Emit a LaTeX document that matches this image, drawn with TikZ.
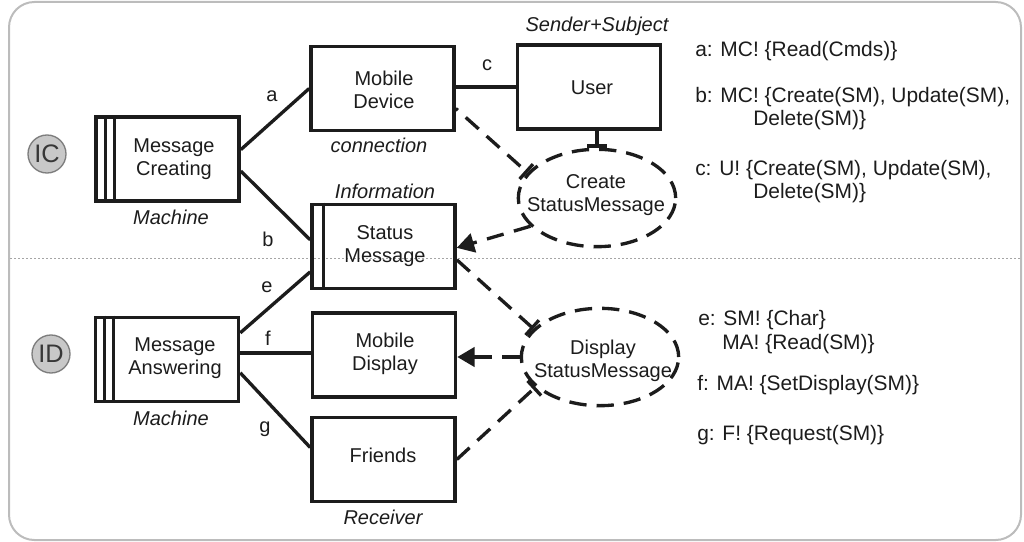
\documentclass[tikz,border=0pt]{standalone}
\usepackage{fontspec}
\setmainfont{Liberation Sans}
\usetikzlibrary{arrows.meta,shapes.geometric,calc}
\definecolor{ink}{RGB}{28,28,28}
\definecolor{framegray}{RGB}{188,188,188}
\definecolor{sepgray}{RGB}{165,165,165}
\definecolor{badgefill}{RGB}{200,200,200}
\definecolor{badgeline}{RGB}{125,125,125}
\begin{document}
\begin{tikzpicture}[x=0.75pt,y=-0.75pt,
  font=\fontsize{15}{17.5}\selectfont,
  pdomain/.style={draw=ink, line width=2.7pt, minimum width=107.25pt, minimum height=63pt, inner sep=0pt},
  stripe/.style={draw=ink, line width=2.5pt},
  dtext/.style={align=center, text=ink, inner sep=0pt},
  kind/.style={font=\fontsize{15}{17.5}\selectfont\itshape, text=ink, inner sep=0pt},
  iface/.style={draw=ink, line width=2.5pt},
  ilabel/.style={text=ink, inner sep=0pt},
  reqshape/.style={draw=ink, line width=2.5pt, dash pattern=on 13pt off 7.5pt, ellipse,
    minimum width=118pt, minimum height=73pt, inner sep=0pt},
  refline/.style={draw=ink, line width=2.5pt, dash pattern=on 13pt off 8pt},
  constrains/.style={-{Bar[width=15pt]}},
  refers/.style={-{Triangle[length=13pt,width=14.5pt]}},
  note/.style={text=ink, inner sep=0pt, anchor=west, align=left, font=\fontsize{15.7}{17.5}\selectfont},
  badge/.style={circle, draw=badgeline, fill=badgefill, line width=1pt, minimum size=28.5pt,
    inner sep=0pt, text={rgb,255:red,55;green,55;blue,55}, font=\fontsize{19}{19}\selectfont},
]
\useasboundingbox (0,0) rectangle (1024,542);

% outer frame and the divider between the two subproblems
\draw[framegray, line width=1.5pt, rounded corners=19pt] (9,2) rectangle (1021,540);
\draw[sepgray, line width=0.6pt, dash pattern=on 1.5pt off 1.5pt] (10,258) -- (1020,258);

% subproblem badges
\node[badge] (ic) at (47,154) {IC};
\node[badge] (id) at (51,354) {ID};

% problem domains
\node[pdomain] (mc) at (167.5,159) {};
\node[pdomain] (md) at (382.5,88.5) {};
\node[pdomain] (sm) at (383.5,246.5) {};
\node[pdomain] (us) at (589,87) {};
\node[pdomain] (ma) at (167,359.5) {};
\node[pdomain] (mdisp) at (384,355) {};
\node[pdomain] (fr) at (383.5,459.5) {};

% machine and designed-domain stripes
\draw[stripe] ([xshift=8.3pt]mc.north west) -- ([xshift=8.3pt]mc.south west);
\draw[stripe] ([xshift=15pt]mc.north west) -- ([xshift=15pt]mc.south west);
\draw[stripe] ([xshift=8.3pt]ma.north west) -- ([xshift=8.3pt]ma.south west);
\draw[stripe] ([xshift=15pt]ma.north west) -- ([xshift=15pt]ma.south west);
\draw[stripe] ([xshift=10pt]sm.north west) -- ([xshift=10pt]sm.south west);

% domain names
\node[dtext] (mctx) at (174,159.5) {Message\\Creating};
\node[dtext] (mdtx) at (384,90) {Mobile\\Device};
\node[dtext] (smtx) at (385,246) {Status\\Message};
\node[dtext] (ustx) at (592,88) {User};
\node[dtext] (matx) at (175,358) {Message\\Answering};
\node[dtext] (mdisptx) at (385,353.5) {Mobile\\Display};
\node[dtext] (frtx) at (383,455) {Friends};

% domain kinds
\node[kind] (k1) at (171,217) {Machine};
\node[kind] (k2) at (379,145) {connection};
\node[kind] (k3) at (385,191) {Information};
\node[kind] (k4) at (597,26) {Sender+Subject};
\node[kind] (k5) at (171,418) {Machine};
\node[kind] (k6) at (383,517) {Receiver};

% requirements
\node[reqshape] (cs) at (597,198) {};
\node[dtext] (cstx) at (596,195) {Create\\StatusMessage};
\node[reqshape] (ds) at (600,357) {};
\node[dtext] (dstx) at (603,361) {Display\\StatusMessage};

% interfaces
\draw[iface] ([yshift=7pt]mc.east) -- (md.west);
\draw[iface] ([yshift=-9pt]mc.east) -- ([yshift=5pt]sm.west);
\draw[iface] (us.west) -- (us.west -| md.east);
\draw[iface] ([yshift=20pt]ma.east) -- ([yshift=-19pt]sm.west);
\draw[iface] ([yshift=5pt]ma.east) -- ([yshift=5pt]ma.east -| mdisp.west);
\draw[iface] ([yshift=-10pt]ma.east) -- ([yshift=9pt]fr.west);

\node[ilabel] (la) at (272,96) {a};
\node[ilabel] (lb) at (268,239) {b};
\node[ilabel] (lc) at (487,65) {c};
\node[ilabel] (le) at (267,287) {e};
\node[ilabel] (lf) at (268,338) {f};
\node[ilabel] (lg) at (265,429) {g};

% requirement references
\draw[iface, constrains] (cs.north |- us.south) -- (cs.north);
\draw[refline, dash phase=11pt, constrains] ([yshift=-15pt]md.east) -- (cs.160);
\draw[refline, refers] (cs.203) -- ([yshift=-1pt]sm.east);
\draw[refline, constrains] ([yshift=-10pt]sm.east) -- (ds.157);
\draw[refline, refers] (ds.west) -- (ds.west -| mdisp.east);
\draw[refline, constrains] (fr.east) -- (ds.205);

% interface descriptions
\node[note] (na) at (695,51) {a: MC! \{Read(Cmds)\}};
\node[note] (nb) at (695,108.5) {b: MC! \{Create(SM), Update(SM),\\\hspace*{43.5pt}Delete(SM)\}};
\node[note] (nc) at (695,181.5) {c: U! \{Create(SM), Update(SM),\\\hspace*{43.5pt}Delete(SM)\}};
\node[note] (ne) at (698,332) {e: SM! \{Char\}\\\hspace*{18pt}MA! \{Read(SM)\}};
\node[note] (nf) at (697,385) {f: MA! \{SetDisplay(SM)\}};
\node[note] (ng) at (697,435) {g: F! \{Request(SM)\}};
\end{tikzpicture}
\end{document}
